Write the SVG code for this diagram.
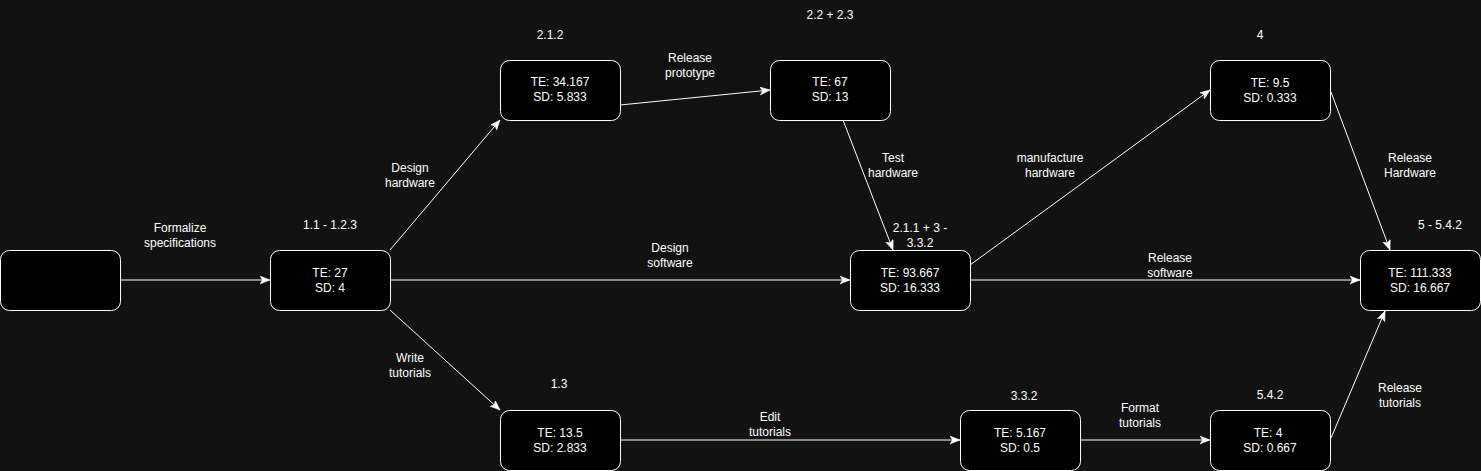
<svg xmlns="http://www.w3.org/2000/svg" width="1481" height="471" viewBox="0 0 1481 471">
<style>
.node rect{fill:#000000;stroke:#ffffff;stroke-width:1}
text{font-family:"Liberation Sans",Arial,sans-serif;font-size:12px;fill:#ffffff;text-anchor:middle}
.edge{stroke:#ffffff;stroke-width:1;fill:none;marker-end:url(#arr)}
</style>
<defs>
<marker id="arr" markerUnits="userSpaceOnUse" markerWidth="12" markerHeight="10" refX="10" refY="4" orient="auto">
<path d="M0,0 L10,4 L0,8 L2.5,4 Z" fill="#ffffff" stroke="#ffffff" stroke-width="0.5"/>
</marker>
</defs>
<rect x="0" y="0" width="1481" height="471" fill="#121212"/>
<g id="connectors">
<line class="edge" x1="120" y1="280" x2="270" y2="280"/>
<line class="edge" x1="390" y1="250" x2="500" y2="120"/>
<line class="edge" x1="390" y1="280" x2="850" y2="280"/>
<line class="edge" x1="390" y1="310" x2="500" y2="410"/>
<line class="edge" x1="620" y1="105" x2="770" y2="90"/>
<line class="edge" x1="843" y1="120" x2="893" y2="250"/>
<line class="edge" x1="970" y1="265" x2="1210" y2="90"/>
<line class="edge" x1="970" y1="280" x2="1360" y2="280"/>
<line class="edge" x1="1331" y1="92" x2="1390" y2="250"/>
<line class="edge" x1="620" y1="440" x2="960" y2="440"/>
<line class="edge" x1="1080" y1="440" x2="1210" y2="440"/>
<line class="edge" x1="1331" y1="438" x2="1385" y2="311"/>
<text x="180" y="232">Formalize</text><text x="180" y="247">specifications</text>
<text x="410" y="172">Design</text><text x="410" y="187">hardware</text>
<text x="670" y="252">Design</text><text x="670" y="267">software</text>
<text x="410" y="362">Write</text><text x="410" y="377">tutorials</text>
<text x="690" y="62">Release</text><text x="690" y="77">prototype</text>
<text x="893" y="162">Test</text><text x="893" y="177">hardware</text>
<text x="1050" y="162">manufacture</text><text x="1050" y="177">hardware</text>
<text x="1170" y="262">Release</text><text x="1170" y="277">software</text>
<text x="1410" y="162">Release</text><text x="1410" y="177">Hardware</text>
<text x="770" y="421">Edit</text><text x="770" y="436">tutorials</text>
<text x="1140" y="412">Format</text><text x="1140" y="427">tutorials</text>
<text x="1400" y="392">Release</text><text x="1400" y="407">tutorials</text>
</g>
<g id="start" class="node"><rect x="0.5" y="250.5" width="120" height="60" rx="9"/></g>
<g id="n1" class="node"><rect x="270.5" y="250.5" width="120" height="60" rx="9"/>
<text x="330" y="229">1.1 - 1.2.3</text><text x="330" y="277">TE: 27</text><text x="330" y="292">SD: 4</text></g>
<g id="n2" class="node"><rect x="500.5" y="60.5" width="120" height="60" rx="9"/>
<text x="550" y="39">2.1.2</text><text x="560" y="86">TE: 34.167</text><text x="560" y="101">SD: 5.833</text></g>
<g id="n3" class="node"><rect x="770.5" y="60.5" width="120" height="60" rx="9"/>
<text x="830" y="19">2.2 + 2.3</text><text x="830" y="86">TE: 67</text><text x="830" y="101">SD: 13</text></g>
<g id="n4" class="node"><rect x="850.5" y="250.5" width="120" height="60" rx="9"/>
<text x="920" y="232">2.1.1 + 3 -</text><text x="920" y="247">3.3.2</text><text x="910" y="277">TE: 93.667</text><text x="910" y="292">SD: 16.333</text></g>
<g id="n5" class="node"><rect x="1210.5" y="60.5" width="120" height="60" rx="9"/>
<text x="1260" y="39">4</text><text x="1270" y="87">TE: 9.5</text><text x="1270" y="102">SD: 0.333</text></g>
<g id="n6" class="node"><rect x="1360.5" y="250.5" width="120" height="60" rx="9"/>
<text x="1440" y="229">5 - 5.4.2</text><text x="1420" y="277">TE: 111.333</text><text x="1420" y="292">SD: 16.667</text></g>
<g id="n7" class="node"><rect x="500.5" y="410.5" width="120" height="60" rx="9"/>
<text x="559" y="388">1.3</text><text x="560" y="437">TE: 13.5</text><text x="560" y="452">SD: 2.833</text></g>
<g id="n8" class="node"><rect x="960.5" y="410.5" width="120" height="60" rx="9"/>
<text x="1024" y="400">3.3.2</text><text x="1020" y="437">TE: 5.167</text><text x="1020" y="452">SD: 0.5</text></g>
<g id="n9" class="node"><rect x="1210.5" y="410.5" width="120" height="60" rx="9"/>
<text x="1270" y="399">5.4.2</text><text x="1268" y="437">TE: 4</text><text x="1270" y="452">SD: 0.667</text></g>
</svg>
